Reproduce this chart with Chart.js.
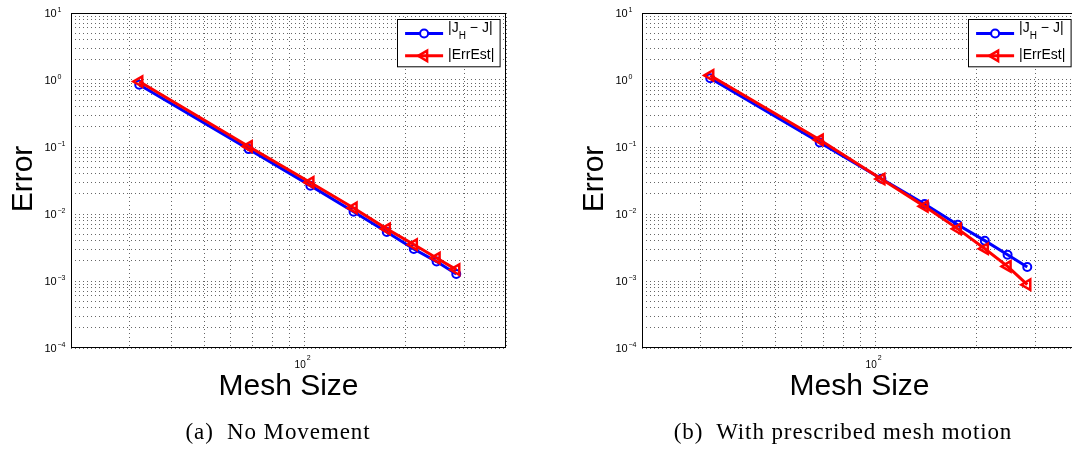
<!DOCTYPE html>
<html>
<head>
<meta charset="utf-8">
<script src="https://cdn.jsdelivr.net/npm/chart.js@4.4.1/dist/chart.umd.min.js"></script>
<style>
    html, body { margin: 0; padding: 0; background: #fff; overflow: hidden; width: 1072px; height: 450px; }
    canvas { position: absolute; top: 0; }
    .cap {
        position: absolute; top: 420px; line-height: 23px;
        font-family: "Liberation Serif", "DejaVu Serif", serif; font-size: 23px; letter-spacing: 0.9px;
        color: #000; white-space: nowrap; transform: translateX(-50%);
    }
</style>
</head>
<body>
<canvas id="leftChart" width="536" height="450" style="left:0"></canvas>
<canvas id="rightChart" width="536" height="450" style="left:571px"></canvas>
<div class="cap" style="left:278px">(a)&nbsp; No Movement</div>
<div class="cap" style="left:843px">(b)&nbsp; With prescribed mesh motion</div>
<script>
// data
const meshSize = [32, 68, 104, 140, 176, 212, 248, 284];
const errNoMove = [0.85, 0.093, 0.0265, 0.0108, 0.0054, 0.0030, 0.00195, 0.00127];
const estNoMove = [0.95, 0.102, 0.0296, 0.0123, 0.0060, 0.0035, 0.0022, 0.00148];
const errMotion = [1.06, 0.117, 0.0336, 0.0141, 0.0069, 0.0040, 0.00247, 0.00162];
const estMotion = [1.17, 0.128, 0.0333, 0.0130, 0.0060, 0.00303, 0.00165, 0.00088];

// axis ticks / grid
const xGridValues = [20, 30, 40, 50, 60, 70, 80, 90, 100, 200, 300, 400];
const xLabelExps = [2];
const yLabelExps = [-4, -3, -2, -1, 0, 1];
const yMinorSteps = [1, 2, 3, 4, 5, 6, 7, 8, 9];

const SANS = '"Liberation Sans", Arial, Helvetica, sans-serif';

function yGridValues() {
    const vals = [];
    for (let e = -4; e < 1; e++) {
        yMinorSteps.forEach(s => vals.push(s * Math.pow(10, e)));
    }
    vals.push(10);
    return vals;
}

function expText(e) {
    return e < 0 ? '\u2212' + (-e) : String(e);
}

// frame, tick labels, axis titles and legend
const decorPlugin = {
    id: 'decor',
    afterDraw(chart) {
        const { ctx, chartArea: a, scales: { x, y } } = chart;
        ctx.save();
        ctx.fillStyle = '#000';

        // y tick labels 10^n
        yLabelExps.forEach(e => {
            const py = y.getPixelForValue(Math.pow(10, e));
            ctx.textAlign = 'left';
            ctx.textBaseline = 'alphabetic';
            ctx.font = '11px ' + SANS;
            ctx.fillText('10', a.left - 26.5, py + 4.3);
            ctx.font = '7px ' + SANS;
            ctx.fillText(expText(e), a.left - 13.5, py - 1.3);
        });

        // x tick labels
        xLabelExps.forEach(e => {
            const px = x.getPixelForValue(Math.pow(10, e));
            ctx.font = '10px ' + SANS;
            ctx.textAlign = 'right';
            ctx.fillText('10', px + 1, a.bottom + 19.7);
            ctx.font = '7px ' + SANS;
            ctx.textAlign = 'left';
            ctx.fillText(expText(e), px + 2, a.bottom + 12);
        });

        // axis titles
        ctx.font = '30px ' + SANS;
        ctx.textAlign = 'center';
        ctx.fillText('Mesh Size', (a.left + a.right) / 2, a.bottom + 47);
        ctx.save();
        ctx.translate(a.left - 39.5, (a.top + a.bottom) / 2 - 1.5);
        ctx.rotate(-Math.PI / 2);
        ctx.fillText('Error', 0, 0);
        ctx.restore();

        // axes box
        ctx.strokeStyle = '#000';
        ctx.lineWidth = 1;
        ctx.strokeRect(Math.round(a.left) + 0.5, Math.round(a.top) + 0.5,
            Math.round(a.width) - 1, Math.round(a.height) - 1);

        // legend
        const lw = 102.6, lh = 47.3;
        const lx = Math.round(a.right - 6.4 - lw) + 0.5;
        const ly = Math.round(a.top + 5.7) + 0.5;
        ctx.fillStyle = '#fff';
        ctx.fillRect(lx, ly, lw, lh);
        ctx.strokeRect(lx, ly, lw, lh);

        const rows = [
            { ds: chart.data.datasets[0], yy: ly + 14 },
            { ds: chart.data.datasets[1], yy: ly + 36.3 }
        ];
        rows.forEach(r => {
            ctx.strokeStyle = r.ds.borderColor;
            ctx.lineWidth = r.ds.borderWidth;
            ctx.beginPath();
            ctx.moveTo(lx + 7.6, r.yy);
            ctx.lineTo(lx + 45.6, r.yy);
            ctx.stroke();
            ctx.lineWidth = r.ds.pointBorderWidth;
            const mx = lx + 26.6;
            ctx.beginPath();
            if (r.ds.pointStyle === 'circle') {
                ctx.arc(mx, r.yy, r.ds.pointRadius, 0, Math.PI * 2);
                ctx.fillStyle = '#fff';
                ctx.fill();
            } else {
                const rad0 = r.ds.pointRotation * Math.PI / 180;
                for (let k = 0; k < 3; k++) {
                    const rad = rad0 + k * 2 * Math.PI / 3;
                    const px = mx + Math.sin(rad) * r.ds.pointRadius;
                    const py = r.yy - Math.cos(rad) * r.ds.pointRadius;
                    if (k === 0) ctx.moveTo(px, py); else ctx.lineTo(px, py);
                }
                ctx.closePath();
            }
            ctx.stroke();
        });

        ctx.fillStyle = '#000';
        ctx.textAlign = 'left';
        const tx = lx + 50.6;
        ctx.font = '14px ' + SANS;
        ctx.fillText('|J', tx, ly + 12.3);
        let w = ctx.measureText('|J').width;
        ctx.font = '10px ' + SANS;
        ctx.fillText('H', tx + w, ly + 19.8);
        w += ctx.measureText('H').width;
        ctx.font = '14px ' + SANS;
        ctx.fillText(' \u2212 J|', tx + w, ly + 12.3);
        ctx.fillText('|ErrEst|', tx, ly + 39.8);

        ctx.restore();
    }
};

function makeChart(id, errVals, estVals) {
    const gridStyle = { color: 'rgba(0,0,0,0.6)', lineWidth: 1, drawTicks: false };
    return new Chart(document.getElementById(id), {
        type: 'line',
        data: {
            labels: meshSize,
            datasets: [
                {
                    label: '|J_H - J|',
                    data: meshSize.map((m, i) => ({ x: m, y: errVals[i] })),
                    borderColor: '#0000ff',
                    borderWidth: 3,
                    pointStyle: 'circle',
                    pointRadius: 4,
                    pointBorderWidth: 2,
                    pointBorderColor: '#0000ff',
                    pointBackgroundColor: 'rgba(255,255,255,0)',
                    pointRotation: 0,
                    tension: 0,
                    order: 2
                },
                {
                    label: '|ErrEst|',
                    data: meshSize.map((m, i) => ({ x: m, y: estVals[i] })),
                    borderColor: '#ff0000',
                    borderWidth: 3,
                    pointStyle: 'triangle',
                    pointRadius: 6,
                    pointBorderWidth: 2.5,
                    pointBorderColor: '#ff0000',
                    pointBackgroundColor: 'rgba(255,255,255,0)',
                    pointRotation: -90,
                    tension: 0,
                    order: 1
                }
            ]
        },
        options: {
            responsive: false,
            animation: false,
            layout: { padding: { left: 71, top: 13, right: 30, bottom: 102 } },
            scales: {
                x: {
                    type: 'logarithmic',
                    min: 20,
                    max: 400,
                    afterBuildTicks: axis => { axis.ticks = xGridValues.map(v => ({ value: v })); },
                    ticks: { display: false, autoSkip: false },
                    grid: gridStyle,
                    border: { display: false, dash: [1, 3] }
                },
                y: {
                    type: 'logarithmic',
                    min: 1e-4,
                    max: 10,
                    afterBuildTicks: axis => { axis.ticks = yGridValues().map(v => ({ value: v })); },
                    ticks: { display: false, autoSkip: false },
                    grid: gridStyle,
                    border: { display: false, dash: [1, 3] }
                }
            },
            plugins: {
                legend: { display: false },
                tooltip: { enabled: false }
            }
        },
        plugins: [decorPlugin]
    });
}

makeChart('leftChart', errNoMove, estNoMove);
makeChart('rightChart', errMotion, estMotion);
</script>
</body>
</html>
